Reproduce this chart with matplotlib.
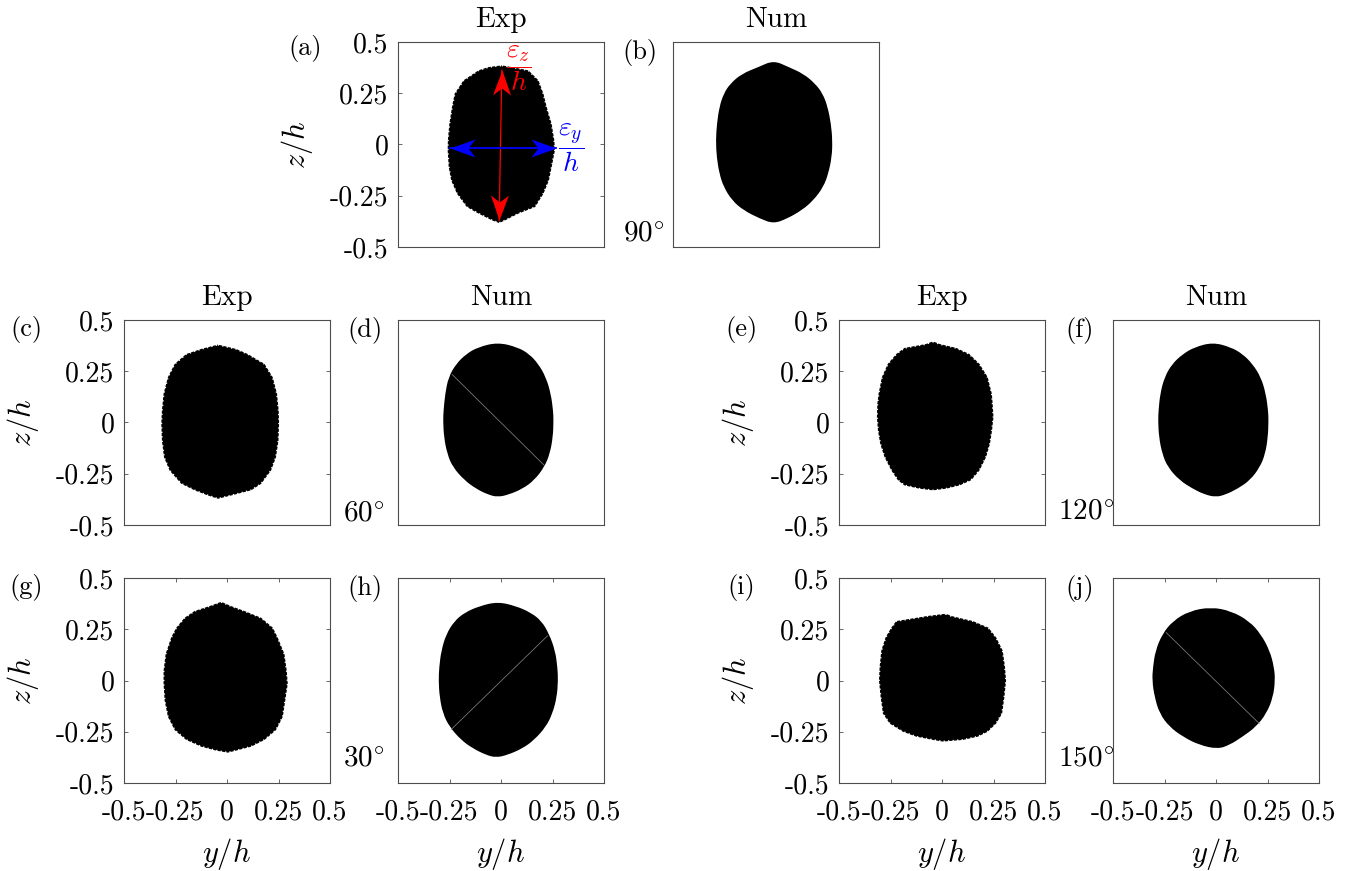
import numpy as np
import matplotlib.pyplot as plt
from matplotlib.patches import PathPatch
from matplotlib.path import Path
from matplotlib.markers import MarkerStyle
from matplotlib.transforms import Affine2D

plt.rcParams['font.family'] = 'cmr10'
plt.rcParams['mathtext.fontset'] = 'cm'
plt.rcParams['axes.unicode_minus'] = False

W, H = 1357, 871

ticks = [-0.5, -0.25, 0, 0.25, 0.5]
tick_labels = ['-0.5', '-0.25', '0', '0.25', '0.5']

# blob outlines: top tip, z levels, left/right edge at each level, bottom tip (y/h, z/h)
# (a) Exp 90
a_top = (0.004, 0.386)
a_z = [0.378, 0.362, 0.313, 0.248, 0.183, 0.10, 0.02, -0.028, -0.11, -0.175, -0.24, -0.305, -0.337, -0.37]
a_left = [-0.06, -0.109, -0.182, -0.225, -0.238, -0.251, -0.258, -0.259, -0.254, -0.242, -0.214, -0.166, -0.109, -0.044]
a_right = [0.05, 0.133, 0.182, 0.206, 0.222, 0.246, 0.259, 0.262, 0.246, 0.233, 0.206, 0.166, 0.085, 0.020]
a_bot = (-0.009, -0.383)

# (b) Num 90
b_top = (-0.012, 0.41)
b_z = [0.378, 0.345, 0.297, 0.248, 0.183, 0.10, 0.02, -0.061, -0.142, -0.207, -0.272, -0.321, -0.362]
b_left = [-0.085, -0.166, -0.222, -0.254, -0.275, -0.287, -0.292, -0.288, -0.275, -0.254, -0.214, -0.158, -0.077]
b_right = [0.061, 0.133, 0.190, 0.227, 0.251, 0.267, 0.274, 0.271, 0.254, 0.230, 0.182, 0.125, 0.053]
b_bot = (-0.012, -0.386)

# (c) Exp 60
c_top = (-0.044, 0.38)
c_z = [0.359, 0.334, 0.286, 0.221, 0.140, 0.058, -0.006, -0.088, -0.169, -0.234, -0.299, -0.331, -0.356]
c_left = [-0.125, -0.198, -0.254, -0.287, -0.308, -0.316, -0.319, -0.316, -0.306, -0.279, -0.222, -0.157, -0.093]
c_right = [0.044, 0.101, 0.182, 0.222, 0.243, 0.251, 0.253, 0.250, 0.238, 0.214, 0.166, 0.117, 0.020]
c_bot = (-0.044, -0.372)

# (d) Num 60
d_top = (-0.016, 0.391)
d_z = [0.367, 0.334, 0.286, 0.221, 0.140, 0.058, 0.010, -0.071, -0.153, -0.218, -0.282, -0.323, -0.351]
d_left = [-0.113, -0.169, -0.218, -0.255, -0.271, -0.279, -0.281, -0.277, -0.261, -0.234, -0.177, -0.121, -0.065]
d_right = [0.081, 0.137, 0.181, 0.218, 0.242, 0.253, 0.255, 0.252, 0.237, 0.210, 0.161, 0.105, 0.040]
d_bot = (-0.016, -0.364)
d_seam_y = [-0.237, 0.210]
d_seam_z = [0.234, -0.209]

# (e) Exp 120
e_top = (-0.044, 0.396)
e_z = [0.383, 0.364, 0.334, 0.286, 0.221, 0.140, 0.091, 0.026, -0.039, -0.104, -0.169, -0.234, -0.282, -0.307, -0.323]
e_left = [-0.077, -0.182, -0.222, -0.263, -0.292, -0.308, -0.314, -0.316, -0.311, -0.300, -0.279, -0.246, -0.214, -0.182, -0.109]
e_right = [-0.012, 0.069, 0.133, 0.182, 0.222, 0.242, 0.246, 0.250, 0.243, 0.233, 0.214, 0.182, 0.141, 0.085, 0.020]
e_bot = (-0.044, -0.331)

# (f) Num 120
f_top = (-0.016, 0.391)
f_z = [0.367, 0.334, 0.286, 0.221, 0.140, 0.058, 0.010, -0.071, -0.153, -0.218, -0.282, -0.323, -0.351]
f_left = [-0.105, -0.161, -0.213, -0.250, -0.271, -0.279, -0.281, -0.277, -0.261, -0.234, -0.177, -0.113, -0.056]
f_right = [0.073, 0.129, 0.177, 0.218, 0.242, 0.253, 0.255, 0.252, 0.239, 0.213, 0.165, 0.105, 0.048]
f_bot = (0.0, -0.364)

# (g) Exp 30
g_top = (-0.028, 0.384)
g_z = [0.363, 0.339, 0.306, 0.258, 0.210, 0.129, 0.048, -0.016, -0.097, -0.177, -0.242, -0.290, -0.323, -0.342]
g_left = [-0.085, -0.158, -0.206, -0.246, -0.271, -0.298, -0.308, -0.308, -0.303, -0.287, -0.254, -0.198, -0.125, -0.053]
g_right = [0.020, 0.085, 0.166, 0.222, 0.246, 0.279, 0.290, 0.295, 0.283, 0.271, 0.238, 0.182, 0.117, 0.044]
g_bot = (0.004, -0.352)

# (h) Num 30
h_top = (-0.016, 0.384)
h_z = [0.363, 0.331, 0.290, 0.226, 0.145, 0.065, 0.0, -0.081, -0.161, -0.226, -0.290, -0.331, -0.363]
h_left = [-0.105, -0.177, -0.226, -0.266, -0.290, -0.300, -0.303, -0.298, -0.282, -0.250, -0.194, -0.137, -0.073]
h_right = [0.073, 0.145, 0.197, 0.234, 0.263, 0.274, 0.277, 0.271, 0.250, 0.218, 0.161, 0.105, 0.032]
h_bot = (-0.024, -0.376)
h_seam_y = [-0.242, 0.226]
h_seam_z = [-0.239, 0.218]

# (i) Exp 150
i_top = (0.020, 0.326)
i_z = [0.315, 0.290, 0.258, 0.210, 0.145, 0.065, 0.0, -0.081, -0.161, -0.210, -0.250, -0.274, -0.290]
i_left = [-0.069, -0.222, -0.246, -0.274, -0.295, -0.303, -0.306, -0.298, -0.287, -0.254, -0.190, -0.125, -0.044]
i_right = [0.044, 0.150, 0.225, 0.263, 0.295, 0.306, 0.311, 0.303, 0.292, 0.263, 0.222, 0.174, 0.101]
i_bot = (0.004, -0.298)

# (j) Num 150
j_top = (-0.024, 0.358)
j_z = [0.339, 0.290, 0.226, 0.145, 0.065, 0.0, -0.081, -0.161, -0.226, -0.274, -0.315]
j_left = [-0.129, -0.210, -0.261, -0.294, -0.306, -0.310, -0.298, -0.274, -0.226, -0.161, -0.081]
j_right = [0.073, 0.161, 0.218, 0.261, 0.282, 0.287, 0.277, 0.245, 0.194, 0.129, 0.065]
j_bot = (0.008, -0.334)
j_seam_y = [-0.242, 0.210]
j_seam_z = [0.234, -0.210]

# arrows on (a)
eps_z_y = [0.004, -0.009]
eps_z_z = [0.362, -0.37]
eps_y_y = [-0.246, 0.267]
eps_y_z = [-0.017, -0.017]


fig = plt.figure(figsize=(W / 100, H / 100), dpi=100)


def add_panel(left_px, top_px):
    return fig.add_axes([left_px / W, 1 - (top_px + 205) / H, 206 / W, 205 / H])


def outline(top, z, left, right, bot):
    ys = [top[0]] + right + [bot[0]] + left[::-1]
    zs = [top[1]] + z + [bot[1]] + z[::-1]
    return ys, zs


def blob(ax, top, z, left, right, bot, smooth):
    ys, zs = outline(top, z, left, right, bot)
    if not smooth:
        ax.fill(ys, zs, color='black', lw=0)
        # ragged rim of the measured section
        ax.plot(ys + ys[:1], zs + zs[:1], color='white', lw=1.3, ls=(0, (0.7, 1.8)))
        return
    # smooth closed outline through the read points (quadratic curves)
    n = len(ys)
    mids = [((ys[k] + ys[(k + 1) % n]) / 2, (zs[k] + zs[(k + 1) % n]) / 2) for k in range(n)]
    verts = [mids[-1]]
    codes = [Path.MOVETO]
    for k in range(n):
        verts += [(ys[k], zs[k]), mids[k]]
        codes += [Path.CURVE3, Path.CURVE3]
    verts.append(mids[-1])
    codes.append(Path.CLOSEPOLY)
    ax.add_patch(PathPatch(Path(verts, codes), facecolor='black', lw=0))


def style(ax, exp, bottom):
    ax.set_xlim(-0.5, 0.5)
    ax.set_ylim(-0.5, 0.5)
    for s in ax.spines.values():
        s.set_color('#4d4d4d')
        s.set_linewidth(0.8)
    ax.tick_params(direction='in', length=3, width=0.6, top=True, right=True,
                   colors='#4d4d4d', labelcolor='black', labelsize=20)
    ax.tick_params(axis='y', pad=7)
    ax.tick_params(axis='x', pad=12)
    if exp:
        ax.set_yticks(ticks)
        ax.set_yticklabels(tick_labels)
        ax.set_ylabel('$z/h$', fontsize=22, rotation=90, va='center', ha='center')
        ax.yaxis.set_label_coords(-0.49, 0.5)
    else:
        ax.set_yticks([])
    if bottom:
        ax.set_xticks(ticks)
        ax.set_xticklabels(tick_labels)
        ax.set_xlabel('$y/h$', fontsize=22, va='center')
        ax.xaxis.set_label_coords(0.5, -0.345)
    else:
        ax.set_xticks([])


# barbed arrow head (tip at origin, pointing along +x)
head = Path([(0, 0), (-1, 0.36), (-0.72, 0), (-1, -0.36), (0, 0)],
            [Path.MOVETO, Path.LINETO, Path.LINETO, Path.LINETO, Path.CLOSEPOLY])


def double_arrow(ax, ys, zs, color, lw):
    ax.plot(ys, zs, color=color, lw=lw)
    ang = np.degrees(np.arctan2(zs[1] - zs[0], ys[1] - ys[0]))
    for k, a in [(0, ang + 180), (1, ang)]:
        m = MarkerStyle(head, transform=Affine2D().rotate_deg(a))
        ax.plot(ys[k], zs[k], marker=m, ms=36, color=color, mew=0)


panels = [
    ('a', 398, 42, True, False, a_top, a_z, a_left, a_right, a_bot),
    ('b', 673, 42, False, False, b_top, b_z, b_left, b_right, b_bot),
    ('c', 124, 320, True, False, c_top, c_z, c_left, c_right, c_bot),
    ('d', 398, 320, False, False, d_top, d_z, d_left, d_right, d_bot),
    ('e', 839, 320, True, False, e_top, e_z, e_left, e_right, e_bot),
    ('f', 1113, 320, False, False, f_top, f_z, f_left, f_right, f_bot),
    ('g', 124, 578, True, True, g_top, g_z, g_left, g_right, g_bot),
    ('h', 398, 578, False, True, h_top, h_z, h_left, h_right, h_bot),
    ('i', 839, 578, True, True, i_top, i_z, i_left, i_right, i_bot),
    ('j', 1113, 578, False, True, j_top, j_z, j_left, j_right, j_bot),
]

angles = {'b': ('90', 0.063, -0.243), 'd': ('60', 0.054, -0.267), 'f': ('120', 0.06, -0.267),
          'h': ('30', 0.117, -0.267), 'j': ('150', 0.117, -0.267)}

axes = {}
for name, lx, ty, exp, bottom, top, z, left, right, bot in panels:
    ax = add_panel(lx, ty)
    axes[name] = ax
    blob(ax, top, z, left, right, bot, smooth=not exp)
    style(ax, exp, bottom)
    if name in 'abcdef':
        ax.set_title('Exp' if exp else 'Num', fontsize=21, pad=11)
    if name == 'a':
        ax.text(-0.45, 0.97, '(a)', transform=ax.transAxes, ha='center', va='center', fontsize=19)
    elif exp:
        ax.text(-0.475, 0.955, '(%s)' % name, transform=ax.transAxes, ha='center', va='center', fontsize=19)
    else:
        ax.text(-0.16, 0.95, '(%s)' % name, transform=ax.transAxes, ha='center', va='center', fontsize=19)
    if name in angles:
        lab, yy, xx = angles[name]
        ax.text(xx, yy, '$%s^{\\circ}$' % lab, transform=ax.transAxes, ha='left', va='center', fontsize=21)

for name, sy, sz in [('d', d_seam_y, d_seam_z), ('h', h_seam_y, h_seam_z), ('j', j_seam_y, j_seam_z)]:
    axes[name].plot(sy, sz, color='0.55', lw=0.5)

ax = axes['a']
double_arrow(ax, eps_z_y, eps_z_z, 'red', 0.9)
double_arrow(ax, eps_y_y, eps_y_z, 'blue', 1.3)
ax.text(0.085, 0.37, r'$\dfrac{\varepsilon_z}{h}$', color='red', fontsize=20, ha='center', va='center')
ax.text(0.338, -0.017, r'$\dfrac{\varepsilon_y}{h}$', color='blue', fontsize=20, ha='center', va='center')

fig.savefig('out.png', dpi=100)
